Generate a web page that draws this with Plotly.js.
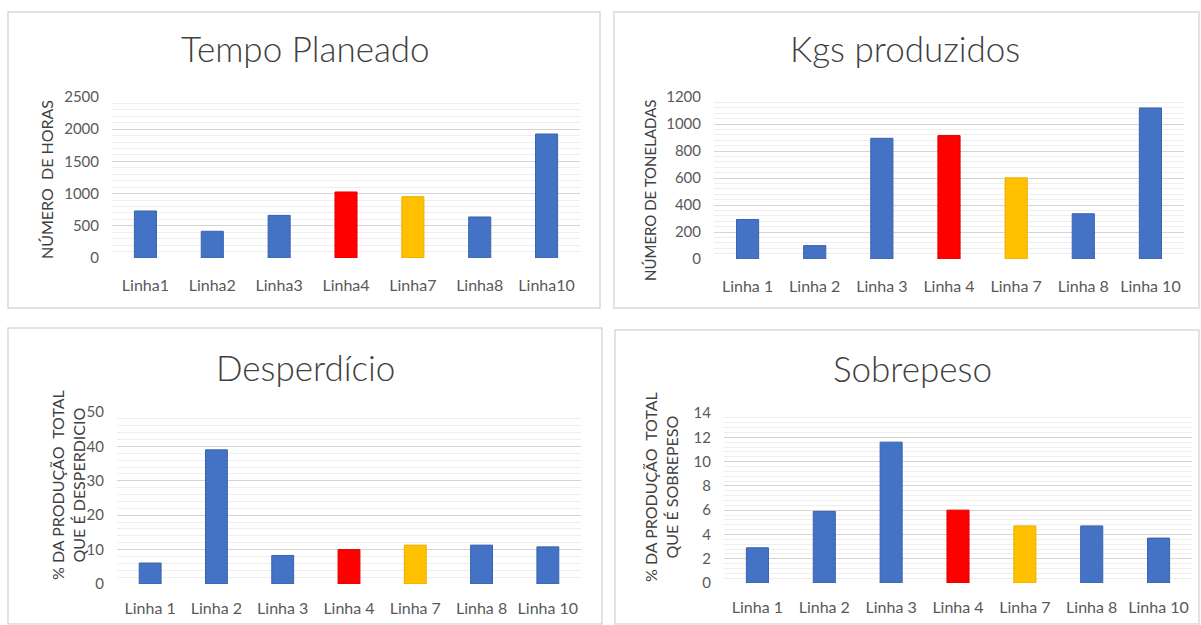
<!DOCTYPE html>
<html>
<head>
<meta charset="utf-8">
<script src="https://cdn.plot.ly/plotly-3.0.1.min.js"></script>
<style>html,body{margin:0;padding:0;background:#fff;}#chart{width:1201px;height:625px;}</style>
</head>
<body>
<div id="chart"></div>
<script>
// ---- data ----
const catsTempo = ["Linha1","Linha2","Linha3","Linha4","Linha7","Linha8","Linha10"];
const catsOther = ["Linha 1","Linha 2","Linha 3","Linha 4","Linha 7","Linha 8","Linha 10"];
const tempoPlaneado = [730, 415, 662, 1025, 952, 637, 1925];
const kgsProduzidos = [293, 99, 894, 914, 601, 335, 1119];
const desperdicio = [6.1, 39.0, 8.3, 10.0, 11.3, 11.3, 10.8];
const sobrepeso = [2.9, 5.9, 11.6, 6.0, 4.7, 4.7, 3.7];
const titles = ["Tempo Planeado","Kgs produzidos","Desperdício","Sobrepeso"];
const yTitles = ["NÚMERO  DE HORAS","NÚMERO DE TONELADAS","% DA PRODUÇÃO  TOTAL<br>QUE É DESPERDICIO","% DA PRODUÇÃO  TOTAL<br>QUE É SOBREPESO"];

// ---- styling ----
const W = 1201, H = 625;
const px = x => x / W, py = y => 1 - y / H;
const BLUE = "#4472C4", RED = "#FF0000", YEL = "#FFC000";
const barColors = [BLUE, BLUE, BLUE, RED, YEL, BLUE, BLUE];
const lineColors = ["#3A62AD","#3A62AD","#3A62AD","#E00000","#E8AE00","#3A62AD","#3A62AD"];
const FONT = "Lato, 'Open Sans', sans-serif";
const TXT = "#595959";

function bar(x, y, xa, ya) {
  return {type:"bar", x:x, y:y, xaxis:xa, yaxis:ya,
    marker:{color:barColors, line:{color:lineColors, width:1}},
    hoverinfo:"x+y", showlegend:false};
}
const data = [
  bar(catsTempo, tempoPlaneado, "x", "y"),
  bar(catsOther, kgsProduzidos, "x2", "y2"),
  bar(catsOther, desperdicio, "x3", "y3"),
  bar(catsOther, sobrepeso, "x4", "y4")
];

function xax(x0, x1, anchor, so) {
  return {domain:[px(x0), px(x1)], anchor:anchor, showgrid:false, zeroline:false, showline:false, ticks:"",
    tickfont:{family:FONT, size:16, color:TXT}, ticklabelstandoff:so, fixedrange:true};
}
function yax(y0, y1, max, dt, mdt, anchor) {
  return {domain:[py(y1), py(y0)], anchor:anchor, range:[0, max], dtick:dt, tick0:0, showgrid:true,
    gridcolor:"#D4D4D4", gridwidth:1, zeroline:false, showline:false, ticks:"",
    minor:{dtick:mdt, tick0:0, showgrid:true, gridcolor:"#EEEEEE", gridwidth:1},
    tickfont:{family:FONT, size:15, color:TXT}, ticklabelstandoff:12, fixedrange:true};
}

const panels = [[8,12,600,308],[614,12,1199,308],[8,328,602,624],[615,330,1199,624]];
const shapes = panels.map(p => ({type:"rect", xref:"paper", yref:"paper",
  x0:px(p[0]), x1:px(p[2]), y0:py(p[3]), y1:py(p[1]), line:{color:"#D9D9D9", width:1.5}}));

const titlePos = [[305,48],[905,48],[305,367],[912,368]];
const annotations = titles.map((t,i) => ({text:t, xref:"paper", yref:"paper",
  x:px(titlePos[i][0]), y:py(titlePos[i][1]), xanchor:"center", yanchor:"middle", showarrow:false,
  font:{family:FONT, size:35, weight:300, color:"#404040"}}));
const ytPos = [[46,180],[650,191],[68,485],[661,487]];
const ytSize = [16,15,16,16];
yTitles.forEach((t,i) => annotations.push({text:t, xref:"paper", yref:"paper",
  x:px(ytPos[i][0]), y:py(ytPos[i][1]), xanchor:"center", yanchor:"middle", showarrow:false,
  textangle:-90, font:{family:FONT, size:ytSize[i], color:"#404040"}}));

const layout = {
  width:W, height:H, margin:{l:0,r:0,t:0,b:0}, paper_bgcolor:"#fff", plot_bgcolor:"rgba(0,0,0,0)",
  bargap:0.67, showlegend:false,
  xaxis:xax(112,580,"y",16), yaxis:yax(97,258,2500,500,100,"x"),
  xaxis2:xax(714,1184,"y2",16), yaxis2:yax(97,259,1200,200,40,"x2"),
  xaxis3:xax(117,581,"y3",13), yaxis3:yax(412,584,50,10,2,"x3"),
  xaxis4:xax(724,1192,"y4",13), yaxis4:yax(413,583,14,2,0.4,"x4"),
  shapes:shapes, annotations:annotations
};
Plotly.newPlot("chart", data, layout, {displayModeBar:false, staticPlot:true});
</script>
</body>
</html>
